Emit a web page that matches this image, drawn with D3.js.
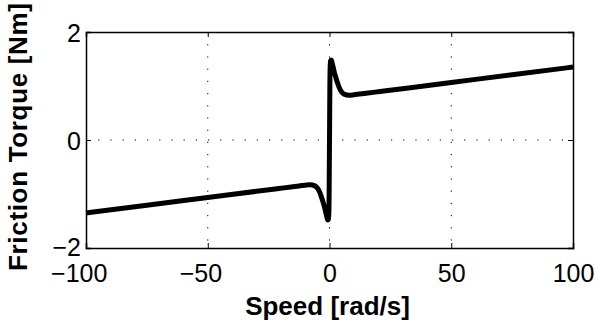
<!DOCTYPE html>
<html>
<head>
<meta charset="utf-8">
<script src="https://cdn.jsdelivr.net/npm/d3@7"></script>
<style>
  body { margin: 0; background: #fff; }
  svg text { font-family: "Liberation Sans", Arial, sans-serif; fill: #000; }
</style>
</head>
<body>
<div id="chart"></div>
<script>
// values
const speed = [-100, -75, -50, -30, -20, -15, -10, -8, -6, -5, -4, -3, -2.5, -2, -1.5, -1, -0.7, -0.5, -0.3, -0.15,
  0, 0.15, 0.3, 0.5, 0.7, 1, 1.5, 2, 2.5, 3, 4, 5, 6, 8, 10, 15, 20, 30, 50, 75, 100];
const torque = [-1.35, -1.21, -1.065, -0.95, -0.894, -0.866, -0.837, -0.83, -0.85, -0.89, -0.97, -1.10, -1.17, -1.25, -1.35, -1.44, -1.48, -1.47, -1.38, -1.0,
  0, 1.0, 1.38, 1.47, 1.48, 1.44, 1.35, 1.25, 1.17, 1.10, 0.97, 0.89, 0.85, 0.83, 0.837, 0.866, 0.894, 0.95, 1.065, 1.21, 1.35];
const xTicks = [-100, -50, 0, 50, 100];
const yTicks = [-2, 0, 2];

const width = 595;
const height = 327;
const margin = { top: 32, right: 22, bottom: 79, left: 86 };
const fontFamily = "Liberation Sans, Arial, sans-serif";

const svg = d3.select("#chart")
  .append("svg")
  .attr("width", width)
  .attr("height", height);

const x = d3.scaleLinear()
  .domain([-100, 100])
  .range([margin.left, width - margin.right]);

const y = d3.scaleLinear()
  .domain([-2, 2])
  .range([height - margin.bottom, margin.top]);

const fmt = d => d3.format("d")(d).replace("-", "\u2212");

// grid
svg.append("g")
  .selectAll("line.gx")
  .data(xTicks.slice(1, -1))
  .enter()
  .append("line")
  .attr("x1", d => x(d)).attr("x2", d => x(d))
  .attr("y1", y(2)).attr("y2", y(-2))
  .attr("stroke", "#000")
  .attr("stroke-width", 1)
  .attr("stroke-dasharray", "1.2,11");

svg.append("g")
  .selectAll("line.gy")
  .data(yTicks.slice(1, -1))
  .enter()
  .append("line")
  .attr("x1", x(-100)).attr("x2", x(100))
  .attr("y1", d => y(d)).attr("y2", d => y(d))
  .attr("stroke", "#000")
  .attr("stroke-width", 1)
  .attr("stroke-dasharray", "1.2,11");

// curve
const line = d3.line()
  .x((d, i) => x(speed[i]))
  .y(d => y(d))
  .curve(d3.curveMonotoneX);

svg.append("path")
  .datum(torque)
  .attr("d", line)
  .attr("fill", "none")
  .attr("stroke", "#000")
  .attr("stroke-width", 5)
  .attr("stroke-linejoin", "round");

// axes (MATLAB box with inward ticks)
const tl = 5;
const xAxis = svg.append("g")
  .attr("transform", `translate(0, ${y(-2)})`)
  .call(d3.axisBottom(x).tickValues(xTicks).tickSize(-tl).tickPadding(16).tickFormat(d => Math.abs(d)))
  .call(g => g.select(".domain").attr("stroke-width", 1.5))
  .call(g => g.selectAll("text").attr("font-size", 25).attr("font-family", fontFamily));

// MATLAB centres the digits on the tick and lets the minus sign hang to the left
xAxis.selectAll(".tick").each(function(d) {
  if (d >= 0) return;
  const t = d3.select(this).select("text");
  const w = t.node().getComputedTextLength();
  d3.select(this).append("text")
    .attr("x", -w / 2)
    .attr("y", t.attr("y"))
    .attr("dy", t.attr("dy"))
    .attr("text-anchor", "end")
    .attr("font-size", 25)
    .attr("font-family", fontFamily)
    .attr("fill", "#000")
    .text("\u2212");
});

svg.append("g")
  .attr("transform", `translate(0, ${y(2)})`)
  .call(d3.axisTop(x).tickValues(xTicks).tickSize(-tl).tickFormat(""))
  .call(g => g.select(".domain").attr("stroke-width", 1.5));

svg.append("g")
  .attr("transform", `translate(${x(-100)}, 0)`)
  .call(d3.axisLeft(y).tickValues(yTicks).tickSize(-tl).tickPadding(5).tickFormat(fmt))
  .call(g => g.select(".domain").attr("stroke-width", 1.5))
  .call(g => g.selectAll("text").attr("font-size", 25).attr("font-family", fontFamily)
    .attr("dy", d => d === -2 ? "0.28em" : "0.36em"));

svg.append("g")
  .attr("transform", `translate(${x(100)}, 0)`)
  .call(d3.axisRight(y).tickValues(yTicks).tickSize(-tl).tickFormat(""))
  .call(g => g.select(".domain").attr("stroke-width", 1.5));

svg.selectAll(".domain").attr("stroke", "#000");

// labels
svg.append("text")
  .attr("x", x(0) - 2)
  .attr("y", 315)
  .attr("text-anchor", "middle")
  .attr("font-size", 26)
  .attr("font-weight", "bold")
  .text("Speed [rad/s]");

svg.append("text")
  .attr("transform", `translate(27, 137) rotate(-90)`)
  .attr("text-anchor", "middle")
  .attr("font-size", 26)
  .attr("font-weight", "bold")
  .attr("textLength", 268)
  .attr("lengthAdjust", "spacing")
  .text("Friction Torque [Nm]");
</script>
</body>
</html>
